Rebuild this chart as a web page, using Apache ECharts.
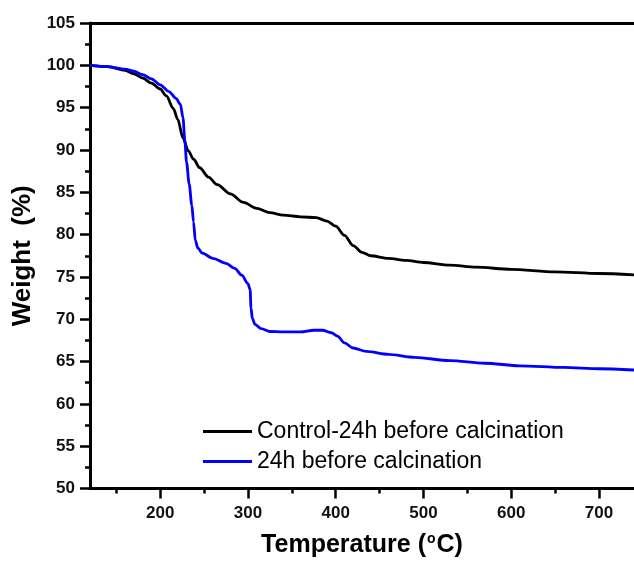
<!DOCTYPE html>
<html>
<head>
<meta charset="utf-8">
<script src="https://cdn.jsdelivr.net/npm/echarts@6/dist/echarts.min.js"></script>
<style>html,body{margin:0;padding:0;background:#fff}#c{width:634px;height:563px}</style>
</head>
<body>
<div id="c"></div>
<script>
var controlName = 'Control-24h before calcination';
var sampleName = '24h before calcination';

var controlTemp = [120,140,160,170,180,190,200,207,215,220,226,232,238,245,255,265,280,295,310,325,340,360,378,390,400,410,420,430,440,460,480,500,530,560,600,650,700,740];
var controlWeight = [100.0,99.85,99.4,99.0,98.5,97.9,97.2,96.4,94.9,93.6,91.4,89.9,88.9,87.9,86.8,85.9,84.8,83.8,83.1,82.6,82.3,82.1,82.0,81.6,81.0,79.9,78.7,77.9,77.5,77.2,76.95,76.7,76.4,76.15,75.9,75.6,75.4,75.25];

var sampleTemp = [120,140,160,170,180,190,200,210,218,223,226,228,230,233,236,238,240,243,248,260,275,285,293,300,302.5,303.5,305,308,315,325,340,360,375,385,395,402,410,420,435,460,490,530,570,610,660,700,740];
var sampleWeight = [100.0,99.85,99.55,99.3,98.9,98.4,97.7,96.9,96.1,95.4,93.8,91.2,88.6,86.0,83.5,81.5,79.3,78.4,77.8,77.2,76.6,76.0,75.2,74.2,73.5,71.3,70.1,69.4,68.9,68.55,68.5,68.5,68.7,68.7,68.4,68.0,67.2,66.6,66.2,65.85,65.5,65.1,64.8,64.5,64.3,64.15,64.0];

var xMajorTicks = [200,300,400,500,600,700];
var xMinorTicks = [150,250,350,450,550,650];
var yMin = 50, yMax = 105, yStep = 5;
var xMin = 120, xMax = 740;

function pairs(xs, ys){ return xs.map(function(x,i){ return [x, ys[i]]; }); }

var chart = echarts.init(document.getElementById('c'));
var font = 'Liberation Sans, Arial, sans-serif';
chart.setOption({
  animation: false,
  backgroundColor: '#fff',
  grid: {left: 90, right: 0, top: 23, bottom: 70},
  legend: {
    orient: 'vertical', left: 198, top: 415, itemWidth: 49, itemHeight: 3, itemGap: 7,
    icon: 'rect',
    textStyle: {fontFamily: font, fontSize: 23, color: '#000'},
    data: [controlName, sampleName]
  },
  xAxis: [
    {type: 'value', min: xMin, max: xMax, position: 'bottom',
     name: '{a|Temperature (}{s|o}{a|C)}', nameLocation: 'middle', nameGap: 44,
     nameTextStyle: {rich: {
       a: {fontFamily: font, fontSize: 25, fontWeight: 'bold', color: '#000'},
       s: {fontFamily: font, fontSize: 14, fontWeight: 'bold', color: '#000', padding: [0,1,12,1]}
     }},
     axisLine: {lineStyle: {color: '#000', width: 3}},
     axisTick: {customValues: xMajorTicks, length: 10, lineStyle: {color: '#000', width: 2.5}},
     axisLabel: {customValues: xMajorTicks, margin: 16, fontFamily: font, fontSize: 17, fontWeight: 'bold', color: '#111'},
     splitLine: {show: false}},
    {type: 'value', min: xMin, max: xMax, position: 'bottom',
     axisLine: {show: false},
     axisTick: {customValues: xMinorTicks, length: 5, lineStyle: {color: '#000', width: 2.5}},
     axisLabel: {show: false}, splitLine: {show: false}},
    {type: 'value', min: xMin, max: xMax, position: 'top',
     axisLine: {lineStyle: {color: '#000', width: 3}},
     axisTick: {show: false}, axisLabel: {show: false}, splitLine: {show: false}}
  ],
  yAxis: {
    type: 'value', min: yMin, max: yMax, interval: yStep,
    name: 'Weight  (%)', nameLocation: 'middle', nameGap: 53, nameRotate: 90,
    nameTextStyle: {fontFamily: font, fontSize: 26, fontWeight: 'bold', color: '#000'},
    axisLine: {lineStyle: {color: '#000', width: 3}},
    axisTick: {length: 10, lineStyle: {color: '#000', width: 2.5}},
    minorTick: {show: true, splitNumber: 2, length: 5, lineStyle: {color: '#000', width: 2.5}},
    axisLabel: {margin: 15, fontFamily: font, fontSize: 17, fontWeight: 'bold', color: '#111'},
    splitLine: {show: false}, minorSplitLine: {show: false}
  },
  series: [
    {name: controlName, type: 'line', xAxisIndex: 0, data: pairs(controlTemp, controlWeight),
     showSymbol: false, smooth: 0.3, smoothMonotone: 'x', color: '#000',
     lineStyle: {color: '#000', width: 2.8}},
    {name: sampleName, type: 'line', xAxisIndex: 0, data: pairs(sampleTemp, sampleWeight),
     showSymbol: false, smooth: 0.3, smoothMonotone: 'x', color: '#0000ff',
     lineStyle: {color: '#0000ff', width: 2.8}}
  ]
});
</script>
</body>
</html>
